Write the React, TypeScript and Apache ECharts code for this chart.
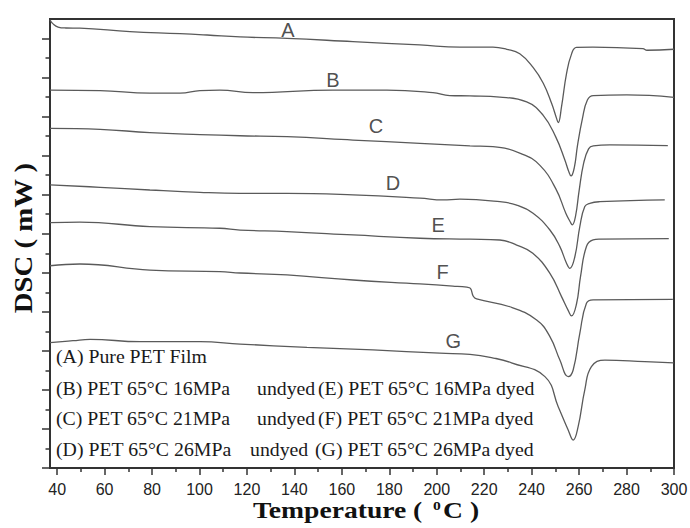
import React, { useEffect, useRef } from 'react';
import * as echarts from 'echarts';

const X_MIN = 37;
const X_MAX = 300;
const Y_MIN = 0;
const Y_MAX = 23;

const xMajorTicks = [40, 60, 80, 100, 120, 140, 160, 180, 200, 220, 240, 260, 280, 300];
const xMinorTicks = [50, 70, 90, 110, 130, 150, 170, 190, 210, 230, 250, 270, 290];
const yMajorTicks = [0, 2, 4, 6, 8, 10, 12, 14, 16, 18, 20, 22];
const yMinorTicks = [1, 3, 5, 7, 9, 11, 13, 15, 17, 19, 21];

// Temperature (°C), DSC signal (offset, arbitrary units)
const curveA = [
  [37, 22.95], [38.3, 22.75], [40.4, 22.59], [43.7, 22.54], [49.6, 22.53], [70.7, 22.35], [91.8, 22.25],
  [103.2, 22.18], [117.1, 22.08], [136.9, 22.01], [164.7, 21.84], [192.9, 21.67], [209.8, 21.56],
  [223.7, 21.56], [229.5, 21.45], [235.0, 21.22], [240.6, 20.52], [244.9, 19.71], [248.4, 18.68],
  [250.5, 17.91], [251.2, 17.69], [252.6, 18.51], [254.7, 20.2], [256.8, 21.2], [258.9, 21.55],
  [265.8, 21.56], [286.9, 21.48], [288.6, 21.4], [300, 21.45],
];
const curveB = [
  [37, 19.36], [58.1, 19.33], [79.1, 19.2], [91.8, 19.2], [100.2, 19.33], [108.6, 19.36], [122.5, 19.23],
  [156.2, 19.36], [179.0, 19.36], [198.4, 19.23], [205.5, 19.08], [214.0, 19.06], [226.6, 19.0],
  [237.9, 18.75], [244.8, 18.08], [250.2, 16.95], [254.0, 15.78], [255.6, 15.2], [256.6, 14.96],
  [258.0, 15.4], [259.3, 16.5], [261.4, 17.9], [263.5, 18.85], [266.0, 19.08], [280.1, 19.11], [300, 18.99],
];
const curveC = [
  [37, 17.4], [58.1, 17.35], [79.1, 17.18], [100.2, 17.08], [117.1, 17.02], [136.9, 16.97], [164.7, 16.8],
  [192.9, 16.63], [214.0, 16.5], [223.7, 16.46], [236.0, 16.08], [243.5, 15.5], [250.2, 14.3],
  [254.4, 13.05], [256.3, 12.6], [257.1, 12.45], [258.5, 12.9], [260.0, 14.2], [261.9, 15.6],
  [264.0, 16.35], [266.0, 16.5], [273.0, 16.55], [297.4, 16.51],
];
const curveD = [
  [37, 14.5], [58.1, 14.38], [79.1, 14.24], [100.2, 14.12], [117.1, 14.07], [136.9, 14.07], [164.7, 13.99],
  [192.9, 13.82], [202.6, 13.73], [209.8, 13.77], [226.6, 13.64], [233.7, 13.47], [240.6, 13.05],
  [247.7, 12.19], [251.9, 11.34], [254.7, 10.49], [256.1, 10.23], [258.2, 10.82], [260.3, 12.36],
  [262.4, 13.39], [264.5, 13.56], [268.7, 13.64], [296.1, 13.73],
];
const curveE = [
  [37, 12.57], [49.6, 12.6], [79.1, 12.36], [108.6, 12.28], [117.1, 12.19], [136.9, 12.11], [164.7, 11.94],
  [192.9, 11.77], [214.0, 11.72], [226.6, 11.68], [233.7, 11.42], [240.5, 11.0], [247.7, 9.97],
  [252.6, 8.78], [255.5, 8.05], [256.8, 7.79], [258.9, 8.4], [260.6, 9.8], [263.1, 11.35],
  [265.9, 11.68], [268.7, 11.72], [297.8, 11.75],
];
const curveF = [
  [37, 10.36], [49.6, 10.45], [79.1, 10.14], [108.6, 10.06], [117.1, 9.99], [136.9, 9.89], [164.7, 9.63],
  [192.9, 9.43], [206.8, 9.32], [212.7, 9.26], [214.2, 9.2], [215.4, 8.8], [216.8, 8.66], [230.8, 8.26],
  [242.1, 7.58], [247.7, 6.73], [251.9, 5.53], [255.4, 4.68], [257.5, 5.02], [260.3, 6.9], [263.1, 8.44],
  [265.9, 8.61], [299.5, 8.64],
];
const curveG = [
  [37, 6.42], [46.7, 6.52], [53.9, 6.59], [74.9, 6.47], [100.2, 6.47], [117.1, 6.35], [145.3, 6.18],
  [173.1, 6.05], [201.3, 5.88], [214.0, 5.82], [224.5, 5.62], [231.5, 5.39], [245.6, 4.68], [251.2, 3.14],
  [255.4, 1.95], [257.5, 1.43], [259.6, 2.12], [262.4, 4.0], [265.2, 5.19], [270.9, 5.53], [287.7, 5.45],
  [299.9, 5.39],
];

const curveNames = ['A', 'B', 'C', 'D', 'E', 'F', 'G'];
const curves = [curveA, curveB, curveC, curveD, curveE, curveF, curveG];

const curveLabels = [
  [137.3, 22.44, 'A'],
  [156.2, 19.88, 'B'],
  [174.4, 17.52, 'C'],
  [181.5, 14.6, 'D'],
  [200.6, 12.45, 'E'],
  [202.5, 10.06, 'F'],
  [207.0, 6.5, 'G'],
];

const legendLeft = ['(A) Pure PET Film', '(B) PET 65°C 16MPa', '(C) PET 65°C 21MPa', '(D) PET 65°C 26MPa'];
const legendMid = ['', 'undyed', 'undyed', 'undyed'];
const legendRight = ['', '(E) PET 65°C 16MPa dyed', '(F) PET 65°C 21MPa dyed', '(G) PET 65°C 26MPa dyed'];

const SERIF = '"Liberation Serif", "Times New Roman", serif';
const SANS = '"Liberation Sans", Arial, sans-serif';

export default function App() {
  const ref = useRef<HTMLDivElement>(null);

  useEffect(() => {
    if (!ref.current) return;
    const chart = echarts.init(ref.current, undefined, { renderer: 'svg' });

    const legendY = [356.7, 389.3, 419.3, 450];
    const midX = [257, 257, 257, 250];
    const rightX = [318, 318, 318, 315];
    const legendGraphics: any[] = [];
    legendLeft.forEach((t, i) => {
      const base = { type: 'text', scaleX: 1.1, silent: true };
      const st = { fontSize: 18, fontFamily: SERIF, fill: '#1a1a1a', align: 'left', verticalAlign: 'middle' };
      legendGraphics.push({ ...base, x: 56, y: legendY[i], style: { ...st, text: t } });
      if (legendMid[i]) {
        legendGraphics.push({ ...base, x: midX[i], y: legendY[i], style: { ...st, text: legendMid[i] } });
      }
      if (legendRight[i]) {
        legendGraphics.push({ ...base, x: rightX[i], y: legendY[i], style: { ...st, text: legendRight[i] } });
      }
    });

    const axisColor = '#333';

    const option: any = {
      animation: false,
      backgroundColor: '#fff',
      grid: {
        left: 50, right: 16, top: 19, bottom: 60,
        show: true, borderColor: axisColor, borderWidth: 2,
        containLabel: false, outerBoundsMode: 'none',
      },
      xAxis: [
        {
          type: 'value', min: X_MIN, max: X_MAX, position: 'bottom',
          axisLine: { show: true, lineStyle: { color: axisColor, width: 2 } },
          axisTick: { show: true, customValues: xMajorTicks, length: 7, lineStyle: { color: axisColor, width: 1.5 } },
          axisLabel: {
            show: true, customValues: xMajorTicks, fontSize: 16, fontFamily: SANS, color: '#222', margin: 13,
            formatter: (v: number) => String(v),
          },
          splitLine: { show: false },
        },
        {
          type: 'value', min: X_MIN, max: X_MAX, position: 'bottom',
          axisLine: { show: false },
          axisTick: { show: true, customValues: xMinorTicks, length: 4, lineStyle: { color: axisColor, width: 1.5 } },
          axisLabel: { show: false },
          splitLine: { show: false },
        },
      ],
      yAxis: [
        {
          type: 'value', min: Y_MIN, max: Y_MAX, position: 'left',
          axisLine: { show: true, lineStyle: { color: axisColor, width: 2 } },
          axisTick: { show: true, customValues: yMajorTicks, length: 8, lineStyle: { color: axisColor, width: 1.5 } },
          axisLabel: { show: false },
          splitLine: { show: false },
        },
        {
          type: 'value', min: Y_MIN, max: Y_MAX, position: 'left',
          axisLine: { show: false },
          axisTick: { show: true, customValues: yMinorTicks, length: 4.5, lineStyle: { color: axisColor, width: 1.5 } },
          axisLabel: { show: false },
          splitLine: { show: false },
        },
      ],
      series: [
        ...curves.map((d, i) => ({
          name: curveNames[i],
          type: 'line',
          data: d,
          symbol: 'none',
          smooth: 0.45,
          silent: true,
          lineStyle: { color: '#5a5a5a', width: 1.3 },
        })),
        {
          type: 'scatter',
          data: curveLabels,
          symbolSize: 1,
          silent: true,
          itemStyle: { color: 'rgba(0,0,0,0)' },
          label: {
            show: true, position: 'inside',
            formatter: (p: any) => p.value[2],
            fontSize: 20, fontFamily: SANS, color: '#222',
          },
        },
      ],
      graphic: [
        {
          type: 'text', x: 24, y: 238, rotation: Math.PI / 2, scaleX: 1.15, silent: true,
          style: {
            text: 'DSC ( mW )', fontSize: 25, fontWeight: 'bold', fontFamily: SERIF,
            fill: '#111', align: 'center', verticalAlign: 'middle',
          },
        },
        {
          type: 'text', x: 253, y: 510, scaleX: 1.2, silent: true,
          style: {
            text: '{a|Temperature ( }{s|0}{a|C )}',
            align: 'left', verticalAlign: 'middle',
            fontSize: 23, fontWeight: 'bold', fontFamily: SERIF, fill: '#111',
            rich: {
              a: { fontSize: 23, fontWeight: 'bold', fontFamily: SERIF, fill: '#111', color: '#111' },
              s: { fontSize: 13, fontWeight: 'bold', fontFamily: SERIF, fill: '#111', color: '#111', verticalAlign: 'top', padding: [0, 2, 0, 3] },
            },
          },
        },
        ...legendGraphics,
      ],
    };

    chart.setOption(option);
    return () => chart.dispose();
  }, []);

  return (
    <div
      ref={ref}
      style={{ position: 'fixed', left: 0, top: 0, width: 690, height: 528, background: '#fff' }}
    />
  );
}
